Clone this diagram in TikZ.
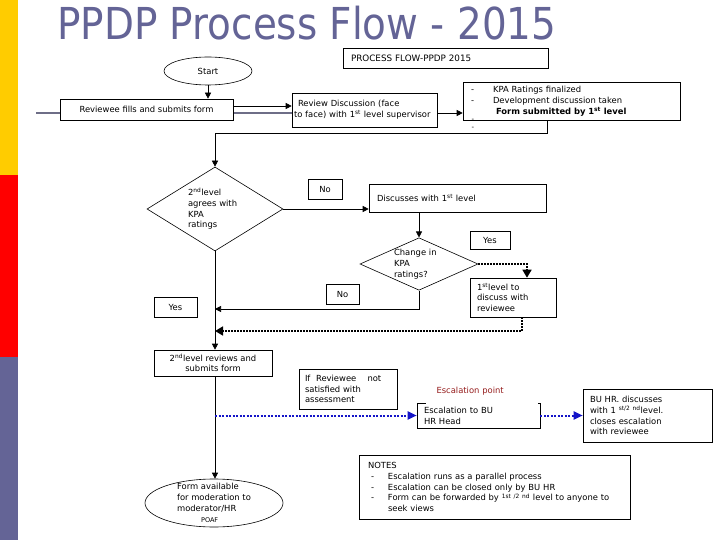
\documentclass[tikz,border=0pt]{standalone}
\usepackage{fontspec}
\usepackage{tikz}
\usetikzlibrary{arrows.meta,positioning,calc,shapes.geometric}
\setmainfont{DejaVu Sans}
\newfontfamily\titlefont{DejaVu Sans}
\newcommand{\dgsize}{\fontsize{8.4}{10.8}\selectfont}
\definecolor{ink}{RGB}{0,0,0}
\definecolor{slate}{RGB}{100,100,150}
\definecolor{baryellow}{RGB}{255,204,0}
\definecolor{barred}{RGB}{255,0,0}
\definecolor{rulegray}{RGB}{110,110,135}
\definecolor{escred}{RGB}{150,30,30}
\definecolor{escblue}{RGB}{20,20,200}
\tikzset{
  box/.style={draw=ink,fill=white,line width=0.6pt,font=\dgsize,inner sep=0pt,align=left},
  tagbox/.style={box,align=center,minimum height=20pt},
  decision/.style={diamond,draw=ink,fill=white,line width=0.6pt,font=\dgsize,inner sep=0pt,align=left},
  terminal/.style={ellipse,draw=ink,fill=white,line width=0.6pt,font=\dgsize,align=center},
  note/.style={font=\dgsize,align=left,inner sep=0pt},
  arrow/.style={-{Triangle[length=6pt,width=6pt]},line width=0.6pt,draw=ink},
  dotarrow/.style={-{Triangle[length=8pt,width=9pt]},line width=1.6pt,dash pattern=on 1.6pt off 1.4pt,draw=ink},
  bluearrow/.style={-{Triangle[length=9pt,width=8pt]},line width=2pt,dash pattern=on 2pt off 1.5pt,draw=escblue}
}

\begin{document}
\begin{tikzpicture}[x=1pt,y=-1pt]
  \useasboundingbox (0,0) rectangle (720,540);
  % side bars and title
  \fill[baryellow] (0,0) rectangle (18,175);
  \fill[barred] (0,175) rectangle (18,357);
  \fill[slate] (0,357) rectangle (18,540);
  \node[anchor=base west,inner sep=0pt,text=slate,font=\titlefont\fontsize{44}{44}\selectfont] (title) at (57,40)
    {\scalebox{0.884}[1]{PPDP Process Flow - 2015}};
  \draw[rulegray,line width=2.5pt] (36,113) -- (292,113);

  \node[box,minimum width=205pt,minimum height=20pt,text width=189pt,font=\fontsize{8.8}{10}\selectfont] (pf) at (445.5,58) {PROCESS FLOW-PPDP 2015};
  \node[terminal,minimum width=88pt,minimum height=28pt] (start) at (208,71) {Start};
  \node[box,align=center,minimum width=173pt,minimum height=21pt] (rev) at (146.5,109.5) {Reviewee fills and submits form};
  \node[box,minimum width=145pt,minimum height=34pt,text width=141pt] (disc1) at (364.5,110)
    {\hspace*{4pt}Review Discussion (face\\to face) with 1\textsuperscript{st} level supervisor};
  \node[box,minimum width=217pt,minimum height=38pt,text width=201pt] (kpa) at (571.5,101)
    {\makebox[22pt][l]{-}KPA Ratings finalized\\
     \makebox[22pt][l]{-}Development discussion taken\\
     \hspace*{25pt}{\bfseries\fontsize{8.4}{10}\selectfont Form submitted by 1\textsuperscript{st} level}};
  \node[note,anchor=north,font=\fontsize{7}{8}\selectfont] (kpadots) at (473,119) {-\\-};

  \node[decision,minimum width=136pt,minimum height=84pt,text width=54pt,aspect=1.6] (agree) at (215,209)
    {2\textsuperscript{nd}level\\agrees with\\KPA\\ratings};
  \node[tagbox,minimum width=34pt] (no1) at (325,189) {No};
  \node[box,minimum width=177pt,minimum height=28pt,text width=161pt] (disc2) at (457.5,198) {Discusses with 1\textsuperscript{st} level};
  \node[decision,minimum width=118pt,minimum height=52pt,text width=50pt,aspect=2.2] (chg) at (419,264)
    {Change in\\KPA\\ratings?};
  \node[tagbox,minimum width=40pt,minimum height=18pt] (yes1) at (490,240) {Yes};
  \node[box,minimum width=86pt,minimum height=39pt,text width=72pt] (lvl1) at (513,297.5)
    {1\textsuperscript{st}level to\\discuss with\\reviewee};
  \node[tagbox,minimum width=33pt] (no2) at (342.5,294) {No};
  \node[tagbox,minimum width=43pt] (yes2) at (175.5,307) {Yes};

  \node[box,align=center,minimum width=118pt,minimum height=26pt] (rev2) at (213,363)
    {2\textsuperscript{nd}level reviews and\\submits form};
  \node[box,minimum width=98pt,minimum height=40pt,text width=86pt] (ifrev) at (348,389)
    {If\ \ Reviewee\ \ \ \ not\\satisfied with\\assessment};
  \node[box,minimum width=123pt,minimum height=25pt,text width=109pt] (esc) at (478.5,415.5) {Escalation to BU\\HR Head};
  \node[note,fill=white,text=escred,minimum width=112pt,minimum height=24pt,text width=90pt] (escpt) at (481.5,391.5) {Escalation point};
  \node[box,minimum width=129pt,minimum height=53pt,text width=115pt] (buhr) at (647.5,415.5)
    {BU HR. discusses\\with 1 \textsuperscript{st/2 nd}level.\\closes escalation\\with reviewee};
  \node[box,minimum width=271pt,minimum height=64pt,text width=253pt] (notes) at (494.5,487)
    {NOTES\\
     \makebox[20pt][l]{\hspace*{3pt}-}Escalation runs as a parallel process\\
     \makebox[20pt][l]{\hspace*{3pt}-}Escalation can be closed only by BU HR\\
     \makebox[20pt][l]{\hspace*{3pt}-}Form can be forwarded by \textsuperscript{1st /2 nd} level to anyone to\\
     \hspace*{20pt}seek views};
  \node[terminal,minimum width=138pt,minimum height=48pt,inner xsep=0pt,inner ysep=-5pt,align=left] (form) at (214,503)
    {Form available\\for moderation to\\moderator/HR\\\hspace*{24pt}{\fontsize{6.5}{7}\selectfont POAF}};

  % connectors
  \coordinate (nojoin) at (215,309);
  \coordinate (yesjoin) at (215,331);
  \draw[arrow] (start.south) -- (start.south |- rev.north);
  \draw[arrow] ($(rev.east)+(0,-3.5)$) -- ($(rev.east -| disc1.west)+(0,-3.5)$);
  \draw[arrow] ($(disc1.east)+(0,3)$) -- ($(disc1.east -| kpa.west)+(0,3)$);
  \draw[arrow] ([xshift=-24.5pt]kpa.south) -- ++(0,13) -| (agree.north);
  \draw[arrow] (agree.east) -- (agree.east -| disc2.west);
  \draw[arrow] (chg.north |- disc2.south) -- (chg.north);
  \draw[dotarrow] (chg.east) -| ([xshift=14pt]lvl1.north);
  \draw[arrow] (chg.south) |- (nojoin);
  \draw[dotarrow] ([xshift=9pt]lvl1.south) |- (yesjoin);
  \draw[arrow] (agree.south) -- (agree.south |- rev2.north);
  \draw[arrow] (agree.south |- rev2.south) -- (agree.south |- form.north);
  \draw[bluearrow] (agree.south |- esc.west) -- (esc.west);
  \draw[bluearrow] (esc.east) -- (buhr.west);
\end{tikzpicture}
\end{document}
